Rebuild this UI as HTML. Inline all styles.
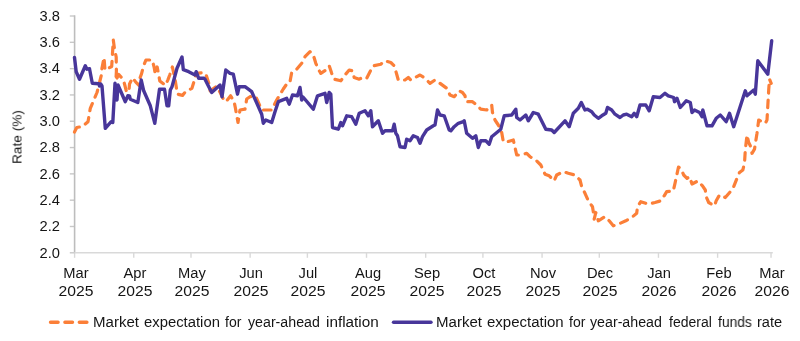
<!DOCTYPE html><html><head><meta charset="utf-8"><style>
html,body{margin:0;padding:0;background:#fff;width:800px;height:341px;overflow:hidden;position:relative}
.t{position:absolute;font-family:"Liberation Sans",sans-serif;font-size:14px;line-height:17px;color:#151515;white-space:nowrap;will-change:transform}
.yl{text-align:right;width:40px}
.xl{text-align:center;width:60px}
</style></head><body>
<svg width="800" height="341" viewBox="0 0 800 341" style="position:absolute;left:0;top:0">
<line x1="74.0" y1="252.8" x2="772.8" y2="252.8" stroke="#D9D9D9" stroke-width="1.6"/>
<line x1="74.60" y1="252.8" x2="74.60" y2="257.8" stroke="#D9D9D9" stroke-width="1.4"/>
<line x1="133.75" y1="252.8" x2="133.75" y2="257.8" stroke="#D9D9D9" stroke-width="1.4"/>
<line x1="190.99" y1="252.8" x2="190.99" y2="257.8" stroke="#D9D9D9" stroke-width="1.4"/>
<line x1="250.14" y1="252.8" x2="250.14" y2="257.8" stroke="#D9D9D9" stroke-width="1.4"/>
<line x1="307.38" y1="252.8" x2="307.38" y2="257.8" stroke="#D9D9D9" stroke-width="1.4"/>
<line x1="366.52" y1="252.8" x2="366.52" y2="257.8" stroke="#D9D9D9" stroke-width="1.4"/>
<line x1="425.67" y1="252.8" x2="425.67" y2="257.8" stroke="#D9D9D9" stroke-width="1.4"/>
<line x1="482.91" y1="252.8" x2="482.91" y2="257.8" stroke="#D9D9D9" stroke-width="1.4"/>
<line x1="542.06" y1="252.8" x2="542.06" y2="257.8" stroke="#D9D9D9" stroke-width="1.4"/>
<line x1="599.30" y1="252.8" x2="599.30" y2="257.8" stroke="#D9D9D9" stroke-width="1.4"/>
<line x1="658.45" y1="252.8" x2="658.45" y2="257.8" stroke="#D9D9D9" stroke-width="1.4"/>
<line x1="717.60" y1="252.8" x2="717.60" y2="257.8" stroke="#D9D9D9" stroke-width="1.4"/>
<line x1="771.02" y1="252.8" x2="771.02" y2="257.8" stroke="#D9D9D9" stroke-width="1.4"/>
<line x1="69.8" y1="252.80" x2="74.6" y2="252.80" stroke="#C8C8C8" stroke-width="1.4"/>
<line x1="69.8" y1="226.49" x2="74.6" y2="226.49" stroke="#C8C8C8" stroke-width="1.4"/>
<line x1="69.8" y1="200.18" x2="74.6" y2="200.18" stroke="#C8C8C8" stroke-width="1.4"/>
<line x1="69.8" y1="173.87" x2="74.6" y2="173.87" stroke="#C8C8C8" stroke-width="1.4"/>
<line x1="69.8" y1="147.56" x2="74.6" y2="147.56" stroke="#C8C8C8" stroke-width="1.4"/>
<line x1="69.8" y1="121.25" x2="74.6" y2="121.25" stroke="#C8C8C8" stroke-width="1.4"/>
<line x1="69.8" y1="94.94" x2="74.6" y2="94.94" stroke="#C8C8C8" stroke-width="1.4"/>
<line x1="69.8" y1="68.63" x2="74.6" y2="68.63" stroke="#C8C8C8" stroke-width="1.4"/>
<line x1="69.8" y1="42.32" x2="74.6" y2="42.32" stroke="#C8C8C8" stroke-width="1.4"/>
<line x1="69.8" y1="16.01" x2="74.6" y2="16.01" stroke="#C8C8C8" stroke-width="1.4"/>
<line x1="74.6" y1="15.31" x2="74.6" y2="252.0" stroke="#BDBDBD" stroke-width="1.6"/>
<polyline fill="none" stroke="#FB7F38" stroke-width="3.2" stroke-linecap="round" stroke-linejoin="round" stroke-dasharray="7.6 7" points="74.5,132 76.8,127.5 82.3,126.5 88,121.7 90.3,108.3 97,92.5 101.3,75.4 102,68 104,57.5 105,70 111.7,66.5 113.3,40 114.5,49 116.2,57 116.4,71 115.9,80.7 118.6,74.4 123.3,79.6 124.9,85.5 126.5,91.8 128.9,91.6 129.5,84 132.7,77.7 135.8,82.1 139,85.3 139.6,79 141.5,73.9 143.4,66.3 145.9,60 152.2,60 154.1,67 155.4,74.5 157.2,67 158.5,73.9 159.8,80.9 165.4,85.3 168,79.6 169.9,74.5 172.4,67 173.6,72.7 175.5,82.1 177.4,94.1 182.5,95.4 185.6,91.6 191.9,88.4 194.4,80.2 196.3,73.3 203.3,72.7 205.8,73.9 209,84 210.2,90.9 216.5,86.4 220.3,92.7 224.2,100.8 226,101.6 230.6,95.8 234.1,101.6 235.4,108 238,122.5 240,110 245,109.2 246.7,99 250,96.7 255.7,96.5 261.7,110 265,110 271.7,110 276.7,100 283.3,89 288.3,81.7 290,81.7 291.7,72.5 296.7,69.2 301.7,63.3 305,56.7 310,51.7 313.3,55 315.8,63.3 318.3,69.2 320.8,73.3 325.8,70 329.2,65.8 331.7,73.3 334.2,79.2 340.8,80.8 345,75 349.2,70 352.5,70.8 354.2,77.5 359.2,79.2 362.5,77.5 366.7,78.3 370,71.7 373.3,65.8 380.8,64.2 385,60.8 390.8,62.5 394.2,65.8 396.7,74.2 398.3,80 405,80 408.3,77.5 410.8,80 415,77.5 420,75 425,78.3 430,83.3 435,80 440,83.3 446.7,88.3 450,95 454.2,96.7 459.2,90.8 462.5,92.5 465,95.8 465.8,101.7 472.5,101.7 476.7,105 480.8,109.2 486.7,110 491.7,105 492.5,112.5 495,120 498.3,125 501.7,132.5 503.3,141.7 507.5,141.7 513.3,140 516.7,155 521.7,155 526.7,153.3 530,156.7 535.8,160 540.8,165 545,174.2 549.2,175.8 554.2,180.8 556.7,175 563.3,171.7 568.3,173.3 575,175 580,180 581.7,186.7 585,193.3 588.3,200.8 592.5,206.7 593.3,211.7 594.2,219.2 595.8,212.5 598.3,220.8 605,216.7 609.2,220.8 613.3,225.8 618.3,224.2 625.8,220.8 631.7,217.5 636.7,213.3 637.5,206.7 640.8,201.7 648.3,204.2 655,202.5 660.8,200.8 664.2,195.8 666.7,191.7 673.3,190.8 675,183.3 678.5,167 681,169 683.7,175 687,178.3 689.5,176.7 692,184 697.8,181 702.5,185.8 705.3,190 706.2,196.7 708.7,202.5 714.5,205.8 716.2,200.8 719.5,195 725.3,197.5 730.3,191.7 733.7,186.7 737,178.3 739.5,172.5 742.8,170 744.5,163.3 745.3,150 747,135 748.7,142.5 750.3,145.8 752,153.3 754.5,149.2 757,133.3 758.7,120 765.3,123.3 767,120 768.7,90 769.5,79.2 771.2,83.3"/>
<polyline fill="none" stroke="#48369A" stroke-width="3.4" stroke-linecap="round" stroke-linejoin="round" points="74.5,57.5 76.2,71.7 79.5,79.2 85.3,65.8 87,69.2 89.5,68.7 92.3,83.3 98.7,83.7 99.5,86 100.7,84 102,86 105.3,128.3 111.2,121.7 112.8,122.5 115,83.3 117,100 118,85 125.3,101.7 127.8,95.8 129.5,96 130.3,99.2 137.8,102.5 141.2,80 143.7,90.8 150.3,105.8 154.8,123.3 159.5,89.2 164.5,89.2 167,105.8 168.7,105.8 170.3,90 172,86.7 177,68.3 182,57 183.3,69.7 188.7,71.7 195,75 196.2,71.7 198.7,78.3 204.2,78.3 205,79.2 207.5,84.2 211.7,92.5 220,85 222,96.7 225.8,70 230,73.3 233.3,74.2 237.5,94.2 239.2,86.7 245,86.7 251.7,91.7 261.7,114.2 263.3,123.3 265.8,120 271.7,122.5 275,111.7 278.3,101.7 286.7,98.3 289.2,104.2 292.5,95 297.5,95.8 300,87.5 301.7,100 303,97 313.3,109.2 317.5,95.8 325,93.3 326.7,102.5 329.2,92.5 330.8,94.2 332.5,127.5 338.3,129.2 340.8,122.5 342.5,125.8 346.7,115.8 351.7,116.7 355.8,124.2 359.2,113.3 365,110.8 368.3,115.8 370.8,110.8 372.5,126.7 378.3,120.8 382.5,133.3 385,130.8 392.5,130.8 394.2,124.2 395.8,133.3 397.5,135.8 400,146.7 405,147.5 406.7,139.2 410,140.8 413.3,135.8 417.5,137.5 420,143.3 422.5,136.7 426.7,130 433.3,125.8 435,125 437.5,110 440,115 444.2,115.8 449.2,130 450.8,130.8 454.2,126.7 458.3,123.3 463.3,121.7 464.2,120.8 466.7,133.3 472.5,138.3 475.8,135.8 478.3,147.5 480.8,140.8 485.8,140.8 489.2,144.2 491.7,136.7 500.8,129.2 504.2,115.8 511.7,115 515.8,109.2 516.7,117.5 520,120 525.8,115 528.3,120.8 533.3,112.5 538.3,114.2 540.8,119.2 545.8,129.2 551.7,130 554.2,132.5 565,120.8 569.2,126.7 573.3,113.3 578.3,108.3 581.3,102.5 585,110 587.5,109.2 591.7,111.7 594.2,115 598.3,118.3 601.7,115.8 605.8,113.3 607.5,107.5 611.7,110 615,114.2 620,117.5 623.3,115 626.7,114.2 631.7,116.7 634.2,113.3 636.7,116.7 640,105 645.8,105 649.2,110.8 653.3,96.7 660,97.5 665,93.3 668.3,95.8 673.7,97.5 674.5,101.7 677,98.3 680.3,107.5 686.2,100.8 690.3,102.5 692,112.5 694.5,110 699.5,112.5 702,116.7 702.8,110 707,125.8 712,125.8 716.2,118.3 720.3,115 726.2,121.7 729.5,113.3 733.7,126.7 745.3,90.8 747,95.8 753.7,90 755.3,94.2 757.8,60.8 767.8,74.2 771.7,40.8"/>
<line x1="50.5" y1="322.2" x2="87" y2="322.2" stroke="#FB7F38" stroke-width="3.4" stroke-linecap="round" stroke-dasharray="7.6 6.8"/>
<line x1="393.5" y1="322.2" x2="431" y2="322.2" stroke="#48369A" stroke-width="3.4" stroke-linecap="round"/>
</svg>
<div class="t yl" style="left:20.3px;top:244.5px;font-size:14.7px">2.0</div>
<div class="t yl" style="left:20.3px;top:218.2px;font-size:14.7px">2.2</div>
<div class="t yl" style="left:20.3px;top:191.9px;font-size:14.7px">2.4</div>
<div class="t yl" style="left:20.3px;top:165.6px;font-size:14.7px">2.6</div>
<div class="t yl" style="left:20.3px;top:139.3px;font-size:14.7px">2.8</div>
<div class="t yl" style="left:20.3px;top:113.0px;font-size:14.7px">3.0</div>
<div class="t yl" style="left:20.3px;top:86.6px;font-size:14.7px">3.2</div>
<div class="t yl" style="left:20.3px;top:60.3px;font-size:14.7px">3.4</div>
<div class="t yl" style="left:20.3px;top:34.0px;font-size:14.7px">3.6</div>
<div class="t yl" style="left:20.3px;top:7.7px;font-size:14.7px">3.8</div>
<div class="t xl" style="left:45.6px;top:265px;transform:scaleX(1.05)">Mar</div>
<div class="t xl" style="left:45.6px;top:283px;transform:scaleX(1.12)">2025</div>
<div class="t xl" style="left:104.7px;top:265px;transform:scaleX(1.05)">Apr</div>
<div class="t xl" style="left:104.7px;top:283px;transform:scaleX(1.12)">2025</div>
<div class="t xl" style="left:162.0px;top:265px;transform:scaleX(1.05)">May</div>
<div class="t xl" style="left:162.0px;top:283px;transform:scaleX(1.12)">2025</div>
<div class="t xl" style="left:221.1px;top:265px;transform:scaleX(1.05)">Jun</div>
<div class="t xl" style="left:221.1px;top:283px;transform:scaleX(1.12)">2025</div>
<div class="t xl" style="left:278.4px;top:265px;transform:scaleX(1.05)">Jul</div>
<div class="t xl" style="left:278.4px;top:283px;transform:scaleX(1.12)">2025</div>
<div class="t xl" style="left:337.5px;top:265px;transform:scaleX(1.05)">Aug</div>
<div class="t xl" style="left:337.5px;top:283px;transform:scaleX(1.12)">2025</div>
<div class="t xl" style="left:396.7px;top:265px;transform:scaleX(1.05)">Sep</div>
<div class="t xl" style="left:396.7px;top:283px;transform:scaleX(1.12)">2025</div>
<div class="t xl" style="left:453.9px;top:265px;transform:scaleX(1.05)">Oct</div>
<div class="t xl" style="left:453.9px;top:283px;transform:scaleX(1.12)">2025</div>
<div class="t xl" style="left:513.1px;top:265px;transform:scaleX(1.05)">Nov</div>
<div class="t xl" style="left:513.1px;top:283px;transform:scaleX(1.12)">2025</div>
<div class="t xl" style="left:570.3px;top:265px;transform:scaleX(1.05)">Dec</div>
<div class="t xl" style="left:570.3px;top:283px;transform:scaleX(1.12)">2025</div>
<div class="t xl" style="left:629.4px;top:265px;transform:scaleX(1.05)">Jan</div>
<div class="t xl" style="left:629.4px;top:283px;transform:scaleX(1.12)">2026</div>
<div class="t xl" style="left:688.6px;top:265px;transform:scaleX(1.05)">Feb</div>
<div class="t xl" style="left:688.6px;top:283px;transform:scaleX(1.12)">2026</div>
<div class="t xl" style="left:742.0px;top:265px;transform:scaleX(1.05)">Mar</div>
<div class="t xl" style="left:742.0px;top:283px;transform:scaleX(1.12)">2026</div>
<div class="t" style="left:17px;top:136.6px;font-size:13px;will-change:auto;transform:translate(-50%,-50%) rotate(-90deg) scaleX(1.05)">Rate (%)</div>
<div class="t" style="left:93.2px;top:314px;transform-origin:0 0;transform:scaleX(1.074)">Market</div>
<div class="t" style="left:144.2px;top:314px;transform-origin:0 0;transform:scaleX(1.060)">expectation</div>
<div class="t" style="left:225.3px;top:314px;transform-origin:0 0;transform:scaleX(1.000)">for</div>
<div class="t" style="left:247.6px;top:314px;transform-origin:0 0;transform:scaleX(1.014)">year-ahead</div>
<div class="t" style="left:325.5px;top:314px;transform-origin:0 0;transform:scaleX(1.092)">inflation</div>
<div class="t" style="left:436.4px;top:314px;transform-origin:0 0;transform:scaleX(1.074)">Market</div>
<div class="t" style="left:487.1px;top:314px;transform-origin:0 0;transform:scaleX(1.071)">expectation</div>
<div class="t" style="left:568.5px;top:314px;transform-origin:0 0;transform:scaleX(1.000)">for</div>
<div class="t" style="left:590.3px;top:314px;transform-origin:0 0;transform:scaleX(1.015)">year-ahead</div>
<div class="t" style="left:668.8px;top:314px;transform-origin:0 0;transform:scaleX(1.000)">federal</div>
<div class="t" style="left:718.3px;top:314px;transform-origin:0 0;transform:scaleX(0.985)">funds</div>
<div class="t" style="left:757.0px;top:314px;transform-origin:0 0;transform:scaleX(1.042)">rate</div>
</body></html>
